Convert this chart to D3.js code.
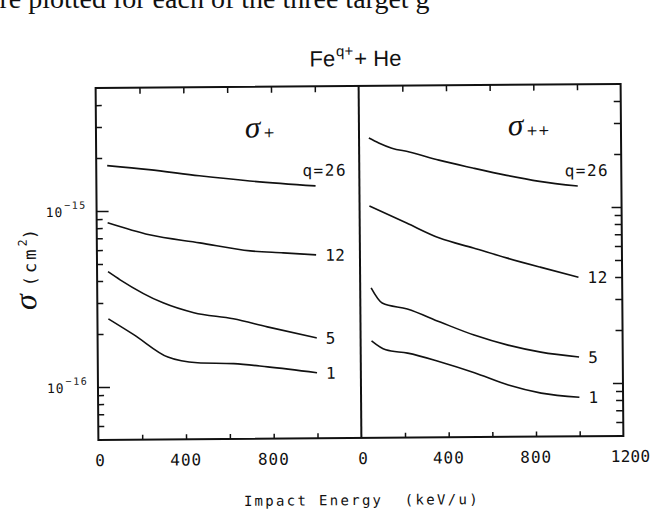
<!DOCTYPE html>
<html>
<head>
<meta charset="utf-8">
<script src="https://cdn.jsdelivr.net/npm/d3@7"></script>
<style>
  body { margin: 0; background: #fff; }
  text { fill: #111; }
</style>
</head>
<body>
<div id="chart"></div>
<script>
// charge states of the Fe projectile, one curve each
const curveLabels = ["q=26", "12", "5", "1"];

// sigma_+ (left panel): energy in keV/u, cross section in units of 1e-16 cm^2
const plusEnergy = [
  [50, 240, 470, 700, 1000],
  [50, 240, 470, 700, 850, 1000],
  [50, 105, 300, 440, 620, 775, 1000],
  [50, 165, 320, 455, 620, 775, 1000]
];
const plusSigma = [
  [18.1, 17.1, 15.7, 14.6, 13.6],
  [8.57, 7.29, 6.53, 5.85, 5.68, 5.51],
  [4.52, 4.06, 2.99, 2.62, 2.41, 2.16, 1.86],
  [2.44, 1.98, 1.47, 1.36, 1.34, 1.28, 1.18]
];

// sigma_++ (right panel)
const plusPlusEnergy = [
  [45, 90, 150, 230, 365, 520, 675, 825, 1000],
  [45, 215, 365, 520, 675, 825, 1000],
  [50, 100, 215, 365, 520, 675, 825, 1000],
  [50, 115, 215, 365, 520, 675, 825, 1000]
];
const plusPlusSigma = [
  [25.3, 23.7, 22.1, 21.0, 18.8, 16.9, 15.3, 14.1, 13.2],
  [10.4, 8.28, 6.78, 5.93, 5.18, 4.59, 4.01],
  [3.56, 2.92, 2.69, 2.26, 1.90, 1.66, 1.51, 1.41],
  [1.78, 1.58, 1.51, 1.34, 1.16, 0.984, 0.883, 0.834]
];

// axis ticks
const xTicks = [200, 400, 600, 800, 1000];
const xLabelsLeft = [0, 400, 800];
const xLabelsRight = [0, 400, 800, 1200];
const yMajor = [1, 10];            // 1e-16, 1e-15
const yMajorExp = ["\u221216", "\u221215"];
const yMinor = [0.6, 0.7, 0.8, 0.9, 2, 3, 4, 5, 6, 7, 8, 9, 20, 30, 40];

const width = 651, height = 509;
const plotTop = 86, plotBottom = 438;
const mono = "DejaVu Sans Mono";

const svg = d3.select("#chart").append("svg")
  .attr("width", width)
  .attr("height", height);

// line of the page text, cut off by the top of the scan
svg.append("text")
  .attr("x", -13).attr("y", 8)
  .attr("font-family", "Liberation Serif")
  .attr("font-size", 28)
  .text("are plotted for each of the three target g");

// the scan is slightly tilted
const g = svg.append("g").attr("transform", "rotate(-0.45,360,262)");

const y = d3.scaleLog().domain([0.5, 50]).range([plotBottom, plotTop]);
const xL = d3.scaleLinear().domain([0, 1200]).range([97, 360]);
const xR = d3.scaleLinear().domain([0, 1200]).range([360, 622]);

function cleanAxis(sel) {
  sel.select(".domain").remove();
  sel.selectAll("text").remove();
  sel.selectAll("line").attr("stroke", "#111").attr("stroke-width", 1.5);
}

function drawPanel(x, energy, sigma, title, sub, side, xLabels) {
  // bottom and top ticks, pointing inward
  g.append("g")
    .attr("transform", `translate(0,${plotBottom})`)
    .call(d3.axisBottom(x).tickValues(xTicks).tickSize(-5))
    .call(cleanAxis);
  g.append("g")
    .attr("transform", `translate(0,${plotTop})`)
    .call(d3.axisBottom(x).tickValues(xTicks).tickSize(6))
    .call(cleanAxis);

  // y ticks on the outer side only
  if (side === "left") {
    const x0 = x.range()[0];
    g.append("g").attr("transform", `translate(${x0},0)`)
      .call(d3.axisRight(y).tickValues(yMinor).tickSize(6)).call(cleanAxis);
    g.append("g").attr("transform", `translate(${x0},0)`)
      .call(d3.axisRight(y).tickValues(yMajor).tickSize(12)).call(cleanAxis);
  } else {
    const x1 = x.range()[1];
    g.append("g").attr("transform", `translate(${x1},0)`)
      .call(d3.axisLeft(y).tickValues(yMinor).tickSize(7)).call(cleanAxis);
    g.append("g").attr("transform", `translate(${x1},0)`)
      .call(d3.axisLeft(y).tickValues(yMajor).tickSize(10)).call(cleanAxis);
  }

  // x tick labels
  g.append("g").selectAll("text")
    .data(xLabels)
    .join("text")
    .attr("x", d => x(d) + (d === 0 ? 2 : d === 1200 ? 7 : 0))
    .attr("y", plotBottom + 26)
    .attr("text-anchor", "middle")
    .attr("font-family", mono)
    .attr("font-size", 16)
    .attr("letter-spacing", d => d === 1200 ? 0.3 : 1)
    .text(d => d);

  // curves
  const line = d3.line()
    .x(d => x(d[0]))
    .y(d => y(d[1]))
    .curve(d3.curveMonotoneX);

  const series = energy.map((e, i) => e.map((v, j) => [v, sigma[i][j]]));

  g.append("g").selectAll("path")
    .data(series)
    .join("path")
    .attr("d", line)
    .attr("fill", "none")
    .attr("stroke", "#111")
    .attr("stroke-width", 1.6);

  // charge state labels at the end of each curve
  g.append("g").selectAll("text")
    .data(series)
    .join("text")
    .attr("x", (d, i) => x(d[d.length - 1][0]) + (i === 0 ? -13 : 9))
    .attr("y", (d, i) => y(d[d.length - 1][1]) + (i === 0 ? -16 : 0) + 6)
    .attr("font-family", mono)
    .attr("font-size", 16)
    .attr("letter-spacing", (d, i) => i === 0 ? 1.5 : 0.5)
    .text((d, i) => curveLabels[i]);

  // panel title, sigma with subscript
  const t = g.append("text")
    .attr("x", x(0) + 149)
    .attr("y", 136.5);
  t.append("tspan")
    .attr("font-family", "Liberation Serif")
    .attr("font-style", "italic")
    .attr("font-size", 31)
    .text(title);
  t.append("tspan")
    .attr("font-family", "DejaVu Sans")
    .attr("font-size", 14)
    .attr("dx", 3)
    .text(sub);
}

drawPanel(xL, plusEnergy, plusSigma, "σ", "+", "left", xLabelsLeft);
drawPanel(xR, plusPlusEnergy, plusPlusSigma, "σ", "++", "right", xLabelsRight);

// frame and panel divider
g.append("rect")
  .attr("x", xL(0)).attr("y", plotTop)
  .attr("width", xR(1200) - xL(0)).attr("height", plotBottom - plotTop)
  .attr("fill", "none")
  .attr("stroke", "#111")
  .attr("stroke-width", 2);
g.append("line")
  .attr("x1", xR(0)).attr("x2", xR(0))
  .attr("y1", plotTop).attr("y2", plotBottom)
  .attr("stroke", "#111")
  .attr("stroke-width", 2);

// y tick labels 10^-15, 10^-16
const yl = g.append("g").selectAll("text")
  .data(yMajor)
  .join("text")
  .attr("x", 46)
  .attr("y", d => y(d) + 5.5)
  .attr("font-family", mono);
yl.append("tspan").attr("font-size", 13).attr("letter-spacing", 1).text("10");
yl.append("tspan")
  .attr("font-size", 10)
  .attr("letter-spacing", 1.5)
  .attr("dx", 1)
  .attr("dy", -8)
  .text((d, i) => yMajorExp[i]);

// main title
const title = g.append("text")
  .attr("x", 357).attr("y", 66)
  .attr("text-anchor", "middle")
  .attr("font-family", "Liberation Sans")
  .attr("font-size", 22);
title.append("tspan").text("Fe");
title.append("tspan").attr("font-size", 15).attr("dy", -10).attr("dx", 1).text("q+");
title.append("tspan").attr("dy", 10).attr("dx", 1).text("+ He");

// axis titles
g.append("text")
  .attr("x", 360).attr("y", 505)
  .attr("text-anchor", "middle")
  .attr("font-family", mono)
  .attr("font-size", 14)
  .attr("letter-spacing", 2.3)
  .attr("xml:space", "preserve")
  .style("white-space", "pre")
  .text("Impact Energy  (keV/u)");

const ylab = g.append("text")
  .attr("transform", "translate(36,267) rotate(-90)")
  .attr("text-anchor", "middle")
  .attr("font-family", mono)
  .attr("font-size", 17);
ylab.append("tspan")
  .attr("font-family", "Liberation Serif")
  .attr("font-style", "italic")
  .attr("font-size", 32)
  .text("σ");
ylab.append("tspan").attr("dx", 8).attr("letter-spacing", 3).text("(cm");
ylab.append("tspan").attr("font-size", 12).attr("dy", -9).text("2");
ylab.append("tspan").attr("dy", 9).text(")");
</script>
</body>
</html>
